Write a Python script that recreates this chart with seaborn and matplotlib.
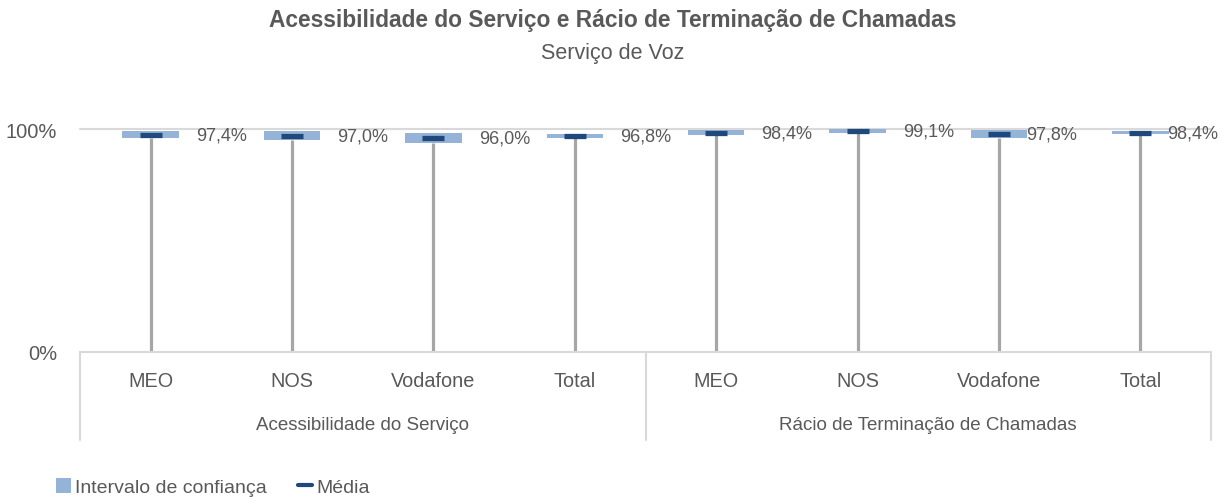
import matplotlib
matplotlib.use("Agg")
import matplotlib.pyplot as plt
import matplotlib.transforms as mtransforms
from matplotlib.patches import Patch
from matplotlib.lines import Line2D
import seaborn as sns
import pandas as pd
import numpy as np

# ---- data ----
groups = ["Acessibilidade do Serviço", "Rácio de Terminação de Chamadas"]
operators = ["MEO", "NOS", "Vodafone", "Total"]
mean_vals = [97.4, 97.0, 96.0, 96.8, 98.4, 99.1, 97.8, 98.4]
ci_low = [95.8, 95.0, 93.9, 95.8, 97.1, 98.2, 96.0, 97.6]
ci_high = [99.1, 98.9, 98.1, 97.8, 99.7, 100.0, 99.6, 99.1]
value_labels = ["97,4%", "97,0%", "96,0%", "96,8%", "98,4%", "99,1%", "97,8%", "98,4%"]
title = "Acessibilidade do Serviço e Rácio de Terminação de Chamadas"
subtitle = "Serviço de Voz"
legend_labels = ["Intervalo de confiança", "Média"]

# ---- styling ----
sns.set_theme(style="white")
plt.rcParams["font.family"] = ["Liberation Sans", "DejaVu Sans"]
TXT = "#595959"
LIGHT = "#95b3d7"
DARK = "#1f497d"
GRAYLINE = "#a6a6a6"
GRID = "#d9d9d9"

cats = [f"{g}|{o}" for g in groups for o in operators]
df = pd.DataFrame({
    "cat": cats,
    "mean": np.array(mean_vals) / 100,
    "low": np.array(ci_low) / 100,
    "high": np.array(ci_high) / 100,
})
df["span"] = df["high"] - df["low"]
xpos = np.arange(len(df))

fig = plt.figure(figsize=(12.25, 5.02), dpi=100)
ax = fig.add_axes([80 / 1225, 1 - 353 / 502, (1211 - 80) / 1225, 223 / 502])

# drop lines from 0 to lower bound
ax.vlines(xpos, 0, df["low"], color=GRAYLINE, lw=2.3, zorder=2)
# confidence interval boxes
sns.barplot(data=df, x="cat", y="span", bottom=df["low"].values, order=cats,
            color=LIGHT, saturation=1, width=0.40, ax=ax, zorder=3, clip_on=False,
            linewidth=0)
# mean markers
ax.hlines(df["mean"], xpos - 0.078, xpos + 0.078, color=DARK, lw=3.8, zorder=4,
          clip_on=False)

# value labels
label_dx = [0.32, 0.32, 0.32, 0.32, 0.32, 0.32, 0.19, 0.19]
for i, (m, t) in enumerate(zip(df["mean"], value_labels)):
    ax.text(i + label_dx[i], m, t, ha="left", va="center", fontsize=13, color=TXT,
            clip_on=False, zorder=5)

ax.set_xlim(-0.5, len(df) - 0.5)
ax.set_ylim(0, 1.0)
ax.set_yticks([0, 1.0])
ax.set_yticklabels(["0%", "100%"], fontsize=14.5, color=TXT)
ax.tick_params(axis="y", length=0, pad=16.5)
ax.axhline(1.0, color=GRID, lw=1.5, zorder=1, clip_on=False)
ax.set_xticks([])
ax.set_xlabel("")
ax.set_ylabel("")
for s in ["top", "right", "left"]:
    ax.spines[s].set_visible(False)
ax.spines["bottom"].set_color(GRID)
ax.spines["bottom"].set_linewidth(1.5)

# multi-level category axis
trans = mtransforms.blended_transform_factory(ax.transData, ax.transAxes)
for i, c in enumerate(cats):
    ax.text(i, -0.13, c.split("|")[1], transform=trans, ha="center", va="center",
            fontsize=14.3, color=TXT)
for gi, g in enumerate(groups):
    ax.text(gi * 4 + 1.5, -0.323, g, transform=trans, ha="center", va="center",
            fontsize=13.5, color=TXT)
for xs in [-0.5, 3.5, 7.5]:
    ax.plot([xs, xs], [0, -0.395], transform=trans, color=GRID, lw=1.5, clip_on=False)

# titles
fig.text(613 / 1225, 1 - 21 / 502, title, ha="center", va="center", fontsize=16.4,
         fontweight="bold", color=TXT)
fig.text(613 / 1225, 1 - 53 / 502, subtitle, ha="center", va="center", fontsize=15.5,
         color=TXT)

# legend
handles = [Patch(facecolor=LIGHT, edgecolor="none"),
           Line2D([0], [0], color=DARK, lw=3)]
fig.legend(handles, legend_labels, loc="center left", bbox_to_anchor=(0.046, 1 - 488 / 502),
           ncol=2, frameon=False, fontsize=14, labelcolor=TXT, handlelength=0.75,
           handleheight=0.8, handletextpad=0.2, columnspacing=1.6, borderaxespad=0,
           borderpad=0)

fig.savefig("out.png", dpi=100)
